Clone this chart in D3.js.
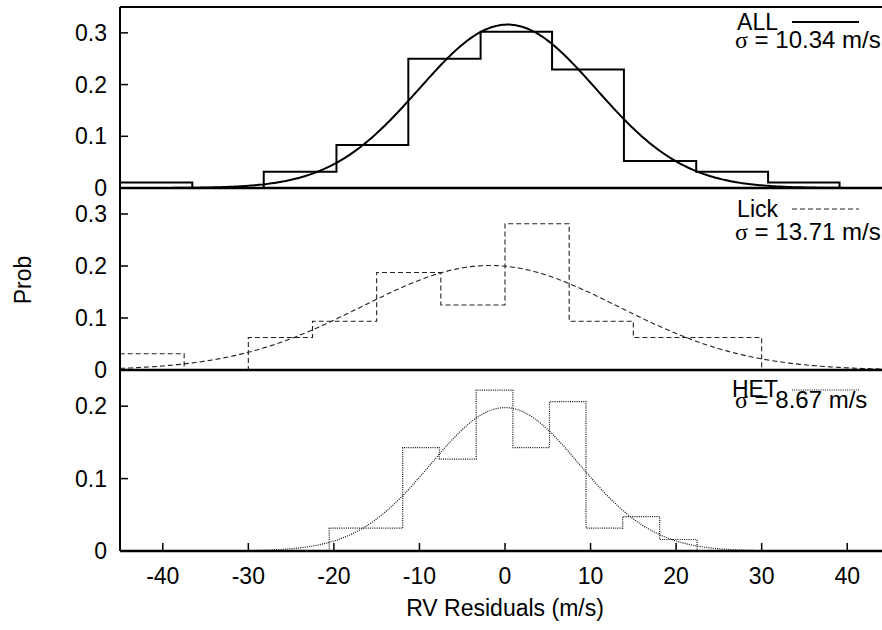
<!DOCTYPE html>
<meta charset="utf-8">
<head>
    <title>RV Residuals</title>
    <script src="https://cdn.jsdelivr.net/npm/d3@7"></script>
    <style>
        body { margin: 0; background: white; }
        svg { display: block; }
        text { font-family: "Liberation Sans", Arial, sans-serif; font-size: 23px; fill: black; }
        .sigline { font-size: 24px; }
        .sig { font-family: "Liberation Serif", "DejaVu Serif", serif; }
    </style>
</head>
<body>
<div id="chart"></div>
<script>
    // histogram bin edges (m/s) and probabilities
    var allEdges = [-45, -36.55, -28.2, -19.7, -11.3, -2.85, 5.5, 13.9, 22.35, 30.75, 39.1];
    var allProb = [0.0104, 0, 0.0313, 0.0833, 0.25, 0.302, 0.229, 0.052, 0.0313, 0.0104];

    var lickEdges = [-45, -37.5, -30, -22.5, -15, -7.5, 0, 7.5, 15, 22.5, 30];
    var lickProb = [0.0313, 0, 0.0625, 0.0938, 0.1875, 0.125, 0.2813, 0.0938, 0.0625, 0.0625];

    var hetEdges = [-20.55, -16.25, -11.96, -7.68, -3.37, 0.92, 5.2, 9.47, 13.76, 18.08, 22.45];
    var hetProb = [0.0317, 0.0317, 0.1429, 0.127, 0.2222, 0.1429, 0.2063, 0.0317, 0.0476, 0.0159];

    // gaussian fits as drawn: peak, centre, width
    var fitAmp = [0.316, 0.201, 0.198];
    var fitMu = [0.3, -1.75, 0];
    var fitWidth = [10.34, 15.0, 8.67];

    var names = ["ALL", "Lick", "HET"];
    var sigmaText = ["10.34", "13.71", "8.67"];
    var yMax = [0.35, 0.35, 0.25];
    var yTicks = [[0, 0.1, 0.2, 0.3], [0, 0.1, 0.2, 0.3], [0, 0.1, 0.2]];
    var xTicks = [-40, -30, -20, -10, 0, 10, 20, 30, 40];

    var w = 882, h = 630;
    var left = 120, right = 890;
    var panelTop = [7, 188, 370];
    var panelBot = [188, 370, 551];
    var keyBase = [30, 217, 397];
    var keyLine = [22, 209, 390];
    var sigBase = [48, 240, 408];
    var dashes = [null, "5,3", "1,1.2"];
    var widths = [2, 1.1, 1.2];
    var colors = ["#000", "#222", "#111"];

    var svg = d3.select("#chart").append("svg")
        .attr("width", w).attr("height", h);

    var x = d3.scaleLinear().domain([-45, 45]).range([left, right]);

    var hists = [[allEdges, allProb], [lickEdges, lickProb], [hetEdges, hetProb]];

    hists.forEach(function (hd, i) {
        var y = d3.scaleLinear().domain([0, yMax[i]]).range([panelBot[i], panelTop[i]]);
        var g = svg.append("g");

        // step outline of the histogram
        var edges = hd[0], prob = hd[1];
        var pts = [[edges[0], 0]];
        prob.forEach(function (p, k) {
            pts.push([edges[k], p]);
            pts.push([edges[k + 1], p]);
        });
        pts.push([edges[edges.length - 1], 0]);
        var line = d3.line().x(function (d) { return x(d[0]); }).y(function (d) { return y(d[1]); });

        g.append("path")
            .attr("d", line(pts))
            .attr("fill", "none")
            .attr("stroke", colors[i])
            .attr("stroke-width", widths[i])
            .attr("stroke-dasharray", dashes[i]);

        // fitted curve
        var xs = d3.range(-45, 45.01, 0.25);
        var curve = xs.map(function (v) {
            return [v, fitAmp[i] * Math.exp(-Math.pow(v - fitMu[i], 2) / (2 * fitWidth[i] * fitWidth[i]))];
        });
        g.append("path")
            .attr("d", line(curve))
            .attr("fill", "none")
            .attr("stroke", colors[i])
            .attr("stroke-width", widths[i])
            .attr("stroke-dasharray", dashes[i]);

        // y ticks, left and right, pointing inward
        yTicks[i].forEach(function (t) {
            if (t > 0) {
                g.append("line").attr("x1", left).attr("x2", left + 8)
                    .attr("y1", y(t)).attr("y2", y(t)).attr("stroke", "#000").attr("stroke-width", 1.5);
                g.append("line").attr("x1", right - 8).attr("x2", right)
                    .attr("y1", y(t)).attr("y2", y(t)).attr("stroke", "#000").attr("stroke-width", 1.5);
            }
            g.append("text")
                .attr("x", 107).attr("y", y(t) + 8)
                .attr("text-anchor", "end")
                .text(t === 0 ? "0" : d3.format(".1f")(t));
        });

        // zero line of the panel
        g.append("line").attr("x1", left).attr("x2", right)
            .attr("y1", y(0)).attr("y2", y(0))
            .attr("stroke", "#000").attr("stroke-width", 2.6);

        // key
        g.append("text").attr("x", 778).attr("y", keyBase[i])
            .attr("text-anchor", "end").text(names[i]);
        g.append("line").attr("x1", 792).attr("x2", 859)
            .attr("y1", keyLine[i]).attr("y2", keyLine[i])
            .attr("stroke", colors[i]).attr("stroke-width", widths[i])
            .attr("stroke-dasharray", dashes[i]);

        var st = g.append("text").attr("class", "sigline").attr("x", 735).attr("y", sigBase[i]);
        st.append("tspan").attr("class", "sig").text("σ");
        st.append("tspan").text(" = " + sigmaText[i] + " m/s");
    });

    // frame
    svg.append("line").attr("x1", left).attr("x2", right).attr("y1", panelTop[0]).attr("y2", panelTop[0])
        .attr("stroke", "#000").attr("stroke-width", 2);
    svg.append("line").attr("x1", left).attr("x2", left).attr("y1", panelTop[0]).attr("y2", panelBot[2])
        .attr("stroke", "#000").attr("stroke-width", 2);
    svg.append("line").attr("x1", right).attr("x2", right).attr("y1", panelTop[0]).attr("y2", panelBot[2])
        .attr("stroke", "#000").attr("stroke-width", 2);

    // bottom x axis ticks and labels
    xTicks.forEach(function (t) {
        svg.append("line").attr("x1", x(t)).attr("x2", x(t))
            .attr("y1", panelBot[2]).attr("y2", panelBot[2] - 8)
            .attr("stroke", "#000").attr("stroke-width", 1.5);
        svg.append("text").attr("x", x(t)).attr("y", 584)
            .attr("text-anchor", "middle").text(t);
    });

    svg.append("text").attr("x", x(0)).attr("y", 616)
        .attr("text-anchor", "middle").text("RV Residuals (m/s)");

    svg.append("text")
        .attr("transform", "translate(31,280) rotate(-90)")
        .attr("text-anchor", "middle").text("Prob");
</script>
</body>
